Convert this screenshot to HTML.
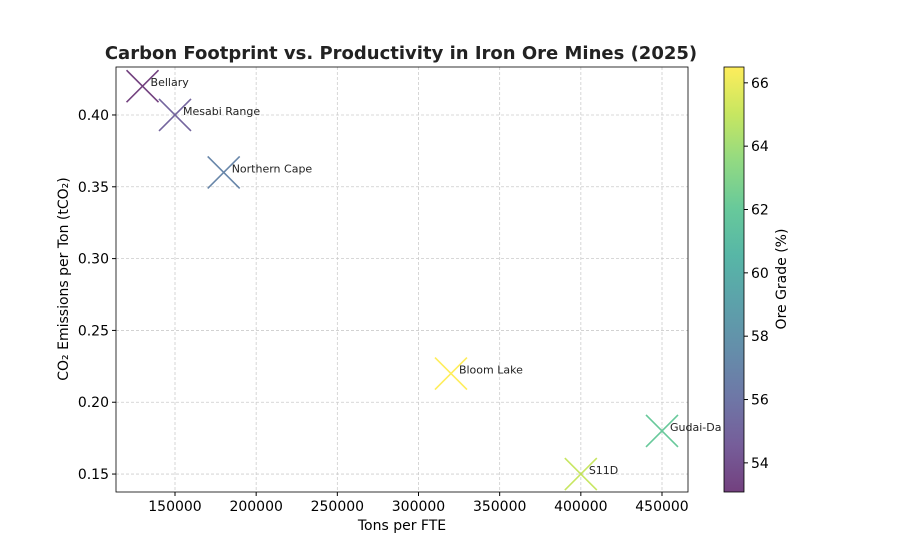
<!DOCTYPE html>
<html><head><meta charset="utf-8"><style>
body{margin:0;background:#fff;font-family:"Liberation Sans","DejaVu Sans",sans-serif}
svg text{font-family:"DejaVu Sans","Liberation Sans",sans-serif}
</style></head><body>
<svg id="c" width="923" height="554"></svg>
<script>
const names=["Bellary","Mesabi Range","Northern Cape","Bloom Lake","Gudai-Darri","S11D"];
const tonsPerFte=[130000,150000,180000,320000,450000,400000];
const co2=[0.42,0.40,0.36,0.22,0.18,0.15];
const grade=[53,55,57,66.5,62,65];
const xTicks=[150000,200000,250000,300000,350000,400000,450000];
const yTicks=[0.15,0.20,0.25,0.30,0.35,0.40];
const cTicks=[54,56,58,60,62,64,66];
const L=116,R=688,T=67,B=492,xmin=113655,xmax=466017,ymin=0.1375,ymax=0.4334,cmin=53.08,cmax=66.5;
const sx=v=>L+(v-xmin)/(xmax-xmin)*(R-L);
const sy=v=>B-(v-ymin)/(ymax-ymin)*(B-T);
const cy=v=>492-(v-cmin)/(cmax-cmin)*425;
const vir=[[68,1,84],[72,40,120],[62,74,137],[49,104,142],[38,130,142],[31,158,137],[53,183,121],[109,205,89],[180,222,44],[253,231,37]];
function col(v){let t=Math.max(0,Math.min(1,(v-cmin)/(cmax-cmin)))*(vir.length-1);let i=Math.min(Math.floor(t),vir.length-2),f=t-i;
const c=vir[i].map((a,k)=>Math.round(a+(vir[i+1][k]-a)*f));return `rgb(${c})`;}
const svg=document.getElementById('c');const NS='http://www.w3.org/2000/svg';
function el(tag,attrs,txt,parent){const e=document.createElementNS(NS,tag);for(const k in attrs)e.setAttribute(k,attrs[k]);if(txt!=null)e.textContent=txt;(parent||svg).appendChild(e);return e;}
const defs=el('defs',{});
const cp=el('clipPath',{id:'clip'},null,defs);el('rect',{x:0,y:0,width:722,height:554},null,cp);
let e;
xTicks.forEach(v=>{const x=sx(v);
e=el('line',{x1:x,x2:x,y1:T,y2:B,stroke:'#ccc','stroke-dasharray':'3,2','stroke-width':0.8});

e=el('line',{x1:x,x2:x,y1:B,y2:B+4,stroke:'#000'});

e=el('text',{x:x,y:B+19,'text-anchor':'middle','font-size':14},v);
});
yTicks.forEach(v=>{const y=sy(v);
e=el('line',{x1:L,x2:R,y1:y,y2:y,stroke:'#ccc','stroke-dasharray':'3,2','stroke-width':0.8});

e=el('line',{x1:L-4,x2:L,y1:y,y2:y,stroke:'#000'});

e=el('text',{x:L-7,y:y+5,'text-anchor':'end','font-size':14},v.toFixed(2));
});
e=el('rect',{x:L,y:T,width:R-L,height:B-T,fill:'none',stroke:'#000','stroke-width':0.8});

const pg=el('g',{'clip-path':'url(#clip)'});
names.forEach((n,i)=>{const x=sx(tonsPerFte[i]),y=sy(co2[i]),c=col(grade[i]),s=16;
e=el('path',{d:`M${x-s},${y-s}L${x+s},${y+s}M${x-s},${y+s}L${x+s},${y-s}`,stroke:c,'stroke-width':1.6,'stroke-opacity':0.75,fill:'none'},null,pg);

e=el('text',{x:x+8,y:y,'font-size':11,fill:'#222'},n,pg);
});
e=el('text',{x:401,y:59,'text-anchor':'middle','font-size':18,'font-weight':'bold',fill:'#222'},'Carbon Footprint vs. Productivity in Iron Ore Mines (2025)');

e=el('text',{x:402,y:530,'text-anchor':'middle','font-size':14},'Tons per FTE');

e=el('text',{x:0,y:0,'text-anchor':'middle','font-size':14,transform:'translate(68,279) rotate(-90)'},'CO₂ Emissions per Ton (tCO₂)');

const g=el('linearGradient',{id:'vg',x1:0,x2:0,y1:1,y2:0},null,defs);
vir.forEach((c,i)=>{el('stop',{offset:i/(vir.length-1),'stop-color':`rgb(${c})`,'stop-opacity':0.75},null,g);});
e=el('rect',{x:724,y:67,width:20,height:425,fill:'url(#vg)',stroke:'#000','stroke-width':0.8});

cTicks.forEach(v=>{const y=cy(v);
e=el('line',{x1:744,x2:748,y1:y,y2:y,stroke:'#000'});

e=el('text',{x:751,y:y+5,'font-size':14},v);
});
e=el('text',{x:0,y:0,'text-anchor':'middle','font-size':14,transform:'translate(786,279) rotate(-90)'},'Ore Grade (%)');

</script></body></html>
